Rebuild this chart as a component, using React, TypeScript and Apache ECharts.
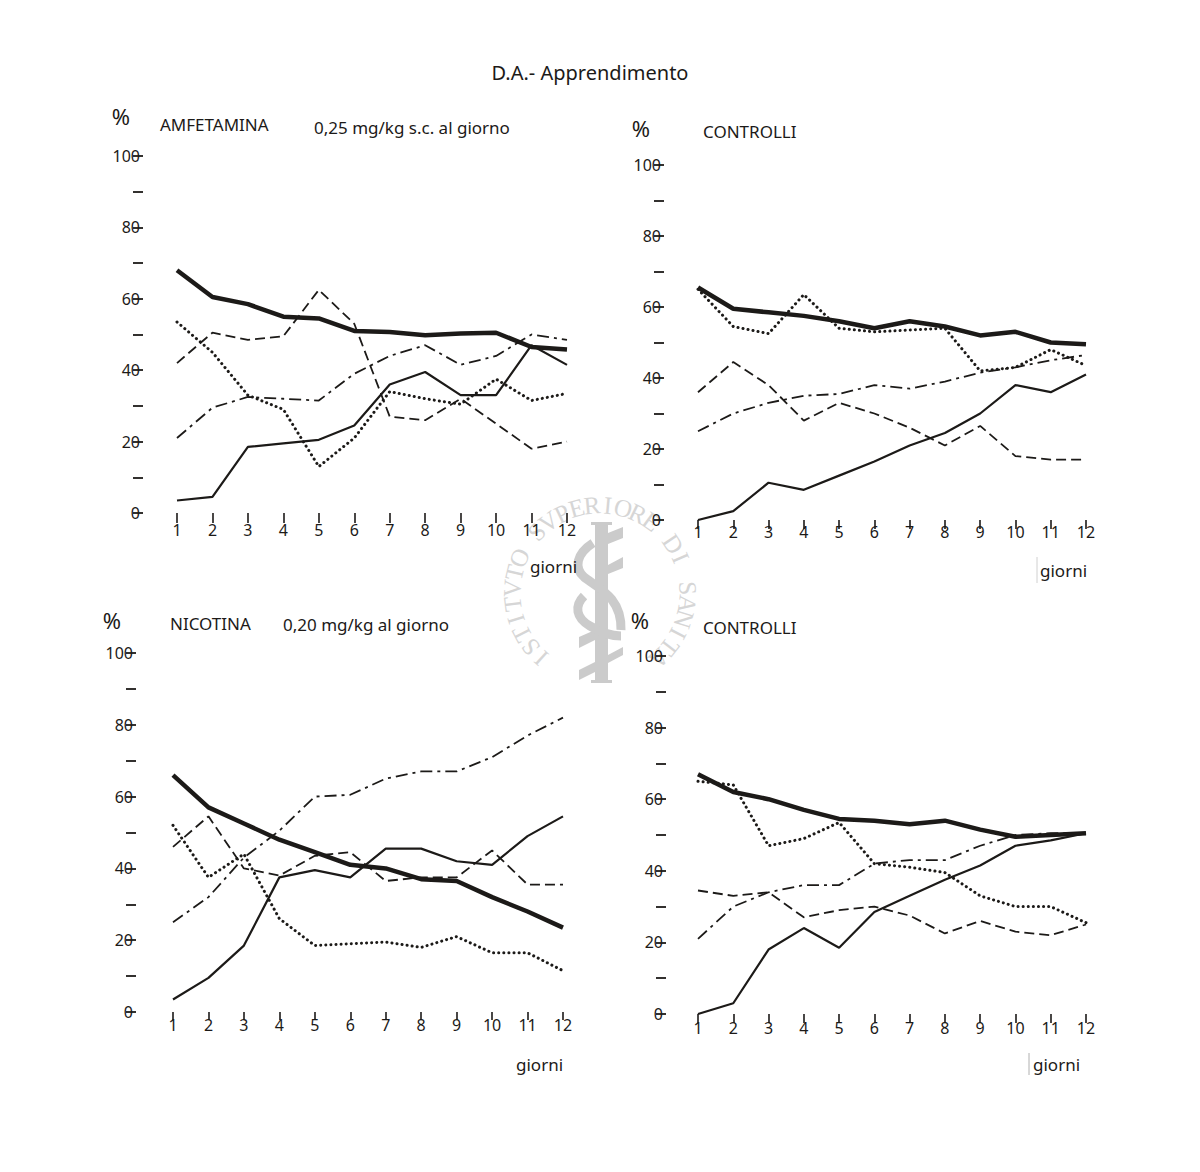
import React, { useEffect, useRef } from "react";
import * as echarts from "echarts";

const days = ["1", "2", "3", "4", "5", "6", "7", "8", "9", "10", "11", "12"];

const amfThick = [68, 60.5, 58.5, 55, 54.5, 51, 50.7, 49.8, 50.3, 50.5, 46.5, 45.8];
const amfThin = [3.5, 4.5, 18.5, 19.5, 20.5, 24.5, 36, 39.5, 33, 33, 47, 41.5];
const amfDotted = [53.5, 45, 33, 29, 13, 21, 34, 32, 30.5, 37.5, 31.5, 33.5];
const amfDashed = [42, 50.5, 48.5, 49.5, 62.5, 53, 27, 26, 32, 25, 18, 20];
const amfDashDot = [21, 29.5, 32.5, 32, 31.5, 39, 44, 47, 41.5, 44, 50, 48.5];

const ctrl1Thick = [65.5, 59.5, 58.5, 57.5, 56, 54, 56, 54.5, 52, 53, 50, 49.5];
const ctrl1Thin = [0, 2.5, 10.5, 8.5, 12.5, 16.5, 21, 24.5, 30, 38, 36, 41];
const ctrl1Dotted = [65, 54.5, 52.5, 63.5, 54, 53, 53.5, 54, 42, 43, 48, 43.5];
const ctrl1Dashed = [36, 44.5, 38, 28, 33, 30, 26, 21, 26.5, 18, 17, 17];
const ctrl1DashDot = [25, 30, 33, 35, 35.5, 38, 37, 39, 41.5, 43, 45, 46.5];

const nicThick = [66, 57, 52.5, 48, 44.5, 41, 40, 37, 36.5, 32, 28, 23.5];
const nicThin = [3.5, 9.5, 18.5, 37.5, 39.5, 37.5, 45.5, 45.5, 42, 41, 49, 54.5];
const nicDotted = [52, 37.5, 44, 26, 18.5, 19, 19.5, 18, 21, 16.5, 16.5, 11.5];
const nicDashed = [46, 54.5, 40, 38, 43.5, 44.5, 36.5, 37.5, 37.5, 45, 35.5, 35.5];
const nicDashDot = [25, 32, 43, 50.5, 60, 60.5, 65, 67, 67, 71, 77, 82];

const ctrl2Thick = [67, 62, 60, 57, 54.5, 54, 53, 54, 51.5, 49.5, 50, 50.5];
const ctrl2Thin = [0, 3, 18, 24, 18.5, 28.5, 33, 37.5, 41.5, 47, 48.5, 50.5];
const ctrl2Dotted = [65, 64, 47, 49, 53.5, 42, 41, 39.5, 33, 30, 30, 25.5];
const ctrl2Dashed = [34.5, 33, 34, 27, 29, 30, 27.5, 22.5, 26, 23, 22, 25];
const ctrl2DashDot = [21, 30, 34, 36, 36, 42, 43, 43, 47, 50, 50.5, 50.5];

const FONT = "'Noto Sans', sans-serif";
const INK = "#1c1a18";
const MARK = "#cbcbcb";

const styles: any[] = [
  { name: "Linea spessa", width: 4.5, type: "solid", cap: "butt" },
  { name: "Linea continua", width: 2.2, type: "solid", cap: "butt" },
  { name: "Linea punteggiata", width: 3, type: [0.1, 5], cap: "round" },
  { name: "Linea tratteggiata", width: 1.8, type: [10, 5], cap: "butt" },
  { name: "Linea tratto-punto", width: 1.8, type: [12, 5, 3, 5], cap: "butt" },
];

const panels = [
  { left: 177, width: 390, top: 156, height: 357, yOff: 34, xOff: 5, tick: 10, data: [amfThick, amfThin, amfDotted, amfDashed, amfDashDot] },
  { left: 698, width: 388, top: 165, height: 355, yOff: 34, xOff: 0, tick: 9, data: [ctrl1Thick, ctrl1Thin, ctrl1Dotted, ctrl1Dashed, ctrl1DashDot] },
  { left: 173, width: 390, top: 653, height: 359, yOff: 37, xOff: 1, tick: 8, data: [nicThick, nicThin, nicDotted, nicDashed, nicDashDot] },
  { left: 698, width: 388, top: 656, height: 358, yOff: 32, xOff: 2, tick: 9, data: [ctrl2Thick, ctrl2Thin, ctrl2Dotted, ctrl2Dashed, ctrl2DashDot] },
];

const label = (text: string, x: number, y: number, size = 17, align = "left") => ({
  type: "text",
  x,
  y,
  z: 5,
  style: { text, fontFamily: FONT, fontSize: size, fill: INK, align, verticalAlign: "middle" },
});

const sealText = "ISTITVTO SVPERIORE DI SANITA";

function sealLetters() {
  const cx = 600;
  const cy = 593;
  const r = 88;
  const n = sealText.length;
  return sealText.split("").map((ch, i) => {
    const deg = -138 + (276 * i) / (n - 1);
    const a = (deg * Math.PI) / 180;
    return {
      type: "text",
      x: cx + r * Math.sin(a),
      y: cy - r * Math.cos(a),
      rotation: -a,
      z: 0,
      style: {
        text: ch,
        fontFamily: "'Liberation Serif', serif",
        fontSize: 25,
        fill: "#d6d6d6",
        align: "center",
        verticalAlign: "middle",
      },
    };
  });
}

function emblem() {
  const bars = [
    [[608, 533], [623, 527], [623, 538], [608, 544]],
    [[608, 565], [623, 557], [623, 568], [608, 574]],
    [[579, 637], [595, 630], [595, 640], [579, 648]],
    [[579, 670], [595, 662], [595, 672], [579, 680]],
    [[608, 655], [623, 647], [623, 655], [608, 663]],
  ];
  return [
    { type: "rect", z: 0, shape: { x: 595, y: 523, width: 13, height: 159 }, style: { fill: MARK } },
    { type: "rect", z: 0, shape: { x: 591, y: 522, width: 21, height: 3 }, style: { fill: MARK } },
    { type: "rect", z: 0, shape: { x: 591, y: 680, width: 21, height: 3 }, style: { fill: MARK } },
    ...bars.map((points) => ({ type: "polygon", z: 0, shape: { points }, style: { fill: MARK } })),
    { type: "seal-snake", x: 0, y: 0, z: 0, style: { fill: "none", stroke: MARK, lineWidth: 9 } },
  ];
}

export default function App() {
  const ref = useRef<HTMLDivElement>(null);
  useEffect(() => {
    document.body.style.margin = "0";
    echarts.graphic.registerShape(
      "seal-snake",
      echarts.graphic.extendPath(
        "M 593 543 C 576 554 574 568 584 577 C 596 587 622 596 621 630 M 584 596 C 574 606 576 618 590 626 C 600 632 612 636 621 636",
        {}
      )
    );
    const chart = echarts.init(ref.current!, null, { renderer: "svg" });
    chart.setOption({
      animation: false,
      backgroundColor: "#ffffff",
      grid: panels.map((p) => ({ left: p.left, top: p.top, width: p.width, height: p.height })),
      xAxis: panels.map((p, i) => ({
        type: "category",
        gridIndex: i,
        data: days,
        boundaryGap: false,
        offset: p.xOff,
        axisLine: { show: false },
        axisTick: { show: true, length: p.tick, lineStyle: { color: INK, width: 1.6 } },
        axisLabel: { interval: 0, margin: 4, fontFamily: FONT, fontSize: 16, color: INK },
        splitLine: { show: false },
      })),
      yAxis: panels.map((p, i) => ({
        type: "value",
        gridIndex: i,
        min: 0,
        max: 100,
        interval: 10,
        offset: p.yOff,
        axisLine: { show: false },
        axisTick: { show: true, length: 10, lineStyle: { color: INK, width: 1.8 } },
        axisLabel: {
          margin: 3,
          fontFamily: FONT,
          fontSize: 16,
          color: INK,
          formatter: (v: number) => (v % 20 === 0 ? String(v) : ""),
        },
        splitLine: { show: false },
      })),
      series: panels.flatMap((p, i) =>
        p.data.map((values, k) => ({
          type: "line",
          name: styles[k].name,
          xAxisIndex: i,
          yAxisIndex: i,
          data: values,
          showSymbol: false,
          symbol: "none",
          clip: false,
          lineStyle: { color: INK, width: styles[k].width, type: styles[k].type, cap: styles[k].cap },
        }))
      ),
      graphic: {
        elements: [
          ...sealLetters(),
          ...emblem(),
          label("D.A.- Apprendimento", 590, 72, 20, "center"),
          label("%", 121, 116, 22, "center"),
          label("AMFETAMINA", 160, 124, 17),
          label("0,25 mg/kg s.c. al giorno", 314, 127, 17),
          label("%", 641, 128, 22, "center"),
          label("CONTROLLI", 703, 131, 17),
          label("%", 112, 620, 22, "center"),
          label("NICOTINA", 170, 623, 17),
          label("0,20 mg/kg al giorno", 283, 624, 17),
          label("%", 640, 620, 22, "center"),
          label("CONTROLLI", 703, 627, 17),
          label("giorni", 530, 566, 17),
          label("giorni", 1040, 570, 17),
          label("giorni", 516, 1064, 17),
          label("giorni", 1033, 1064, 17),
          { type: "line", z: 1, shape: { x1: 1037, y1: 557, x2: 1037, y2: 583 }, style: { stroke: "#d0d0d0", lineWidth: 1 } },
          { type: "line", z: 1, shape: { x1: 1029, y1: 1053, x2: 1029, y2: 1075 }, style: { stroke: "#b0b0b0", lineWidth: 1 } },
        ],
      },
    });
    return () => chart.dispose();
  }, []);
  return <div ref={ref} style={{ width: 1200, height: 1172 }} />;
}
